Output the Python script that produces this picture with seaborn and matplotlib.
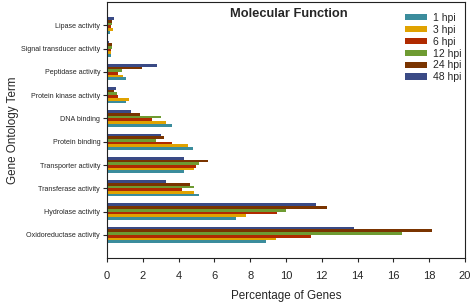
import pandas as pd
import numpy as np
import matplotlib
matplotlib.use("Agg")
import matplotlib.pyplot as plt
import seaborn as sns

terms = ["Lipase activity", "Signal transducer activity", "Peptidase activity",
         "Protein kinase activity", "DNA binding", "Protein binding",
         "Transporter activity", "Transferase activity", "Hydrolase activity",
         "Oxidoreductase activity"]
times = ["1 hpi", "3 hpi", "6 hpi", "12 hpi", "24 hpi", "48 hpi"]

hpi_1 = [0.15, 0.2, 1.05, 1.05, 3.6, 4.8, 4.3, 5.14, 7.2, 8.9]
hpi_3 = [0.35, 0.2, 0.88, 1.21, 3.28, 4.5, 4.83, 4.83, 7.75, 9.46]
hpi_6 = [0.2, 0.2, 0.6, 0.6, 2.5, 3.63, 4.95, 4.21, 9.52, 11.42]
hpi_12 = [0.25, 0.28, 0.82, 0.56, 3.0, 2.72, 5.12, 4.86, 9.98, 16.46]
hpi_24 = [0.25, 0.26, 1.95, 0.36, 1.84, 3.18, 5.63, 4.64, 12.31, 18.14]
hpi_48 = [0.4, 0.08, 2.8, 0.47, 1.34, 3.0, 4.3, 3.28, 11.7, 13.82]

colors = ["#3B8C9C", "#E0A200", "#B02A00", "#6E9B32", "#7A3400", "#3A4A85"]

series = [hpi_1, hpi_3, hpi_6, hpi_12, hpi_24, hpi_48]
df = pd.concat([pd.DataFrame({"term": terms, "time": t, "pct": v})
                for t, v in zip(times, series)], ignore_index=True)

sns.set_style("ticks")
plt.rcParams["font.family"] = ["Liberation Sans", "DejaVu Sans"]

fig = plt.figure(figsize=(4.72, 3.04), dpi=100)
ax = fig.add_axes([0.227, 0.151, 0.758, 0.842])

# bottom-to-top within a group: 1 hpi ... 48 hpi
order_rev = times[::-1]
pal = dict(zip(times, colors))
sns.barplot(data=df, y="term", x="pct", hue="time", order=terms,
            hue_order=order_rev, palette=pal, orient="h", width=0.7,
            errorbar=None, linewidth=0, saturation=1, ax=ax)

ax.set_xlim(0, 20)
ax.set_ylim(len(terms), -1)
ax.set_xticks(np.arange(0, 21, 2))
ax.tick_params(axis="x", labelsize=8, length=3, width=0.8, pad=6)
ax.tick_params(axis="y", labelsize=5.1, length=3, width=0.8, pad=2)
for s in ax.spines.values():
    s.set_linewidth(0.8)
    s.set_color("#222222")
ax.set_xlabel("Percentage of Genes", fontsize=8.4)
ax.xaxis.set_label_coords(0.5, -0.125)
ax.set_ylabel("Gene Ontology Term", fontsize=8.4)
ax.yaxis.set_label_coords(-0.247, 0.5)
ax.text(0.508, 0.955, "Molecular Function", transform=ax.transAxes,
        ha="center", va="center", fontsize=9.3, fontweight="bold")

h, l = ax.get_legend_handles_labels()
ax.legend(h[::-1], l[::-1], loc="upper right", bbox_to_anchor=(1.0, 0.97),
          frameon=False, fontsize=7.5, handlelength=2.1, handleheight=0.55,
          labelspacing=0.18, borderaxespad=0, handletextpad=0.6, borderpad=0.3)

fig.savefig("out.png", dpi=100)
